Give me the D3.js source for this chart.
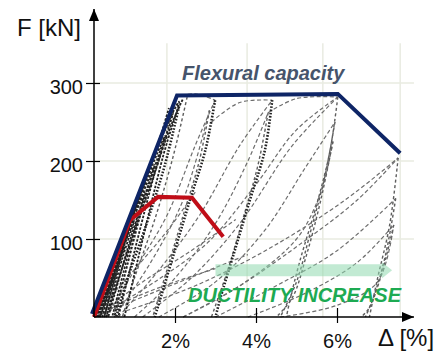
<!DOCTYPE html>
<html>
<head>
<meta charset="utf-8">
<script src="https://cdn.jsdelivr.net/npm/d3@7"></script>
<style>
    body { margin: 0; background: #fff; }
    text { font-family: "Liberation Sans", Arial, sans-serif; }
</style>
</head>
<body>
<svg id="chart" width="439" height="353"></svg>
<script>
// values: drift in %, force in kN
const yTicks = [100, 200, 300];
const xTicks = [2, 4, 6];
const xTickLabels = ["2%", "4%", "6%"];
const gridDrifts = [1.8, 3.78, 5.65, 7.56];

const flexuralCapacity = [[-0.05, 4], [2.05, 284], [6.02, 286], [7.56, 210]];
const brittleResponse = [[0, 0], [0.89, 124], [1.58, 154], [2.42, 153], [3.19, 103]];
const ductilityArrow = { from: 3.0, to: 7.36, level: 60 };

// small cycles before yielding (dense band near the origin)
const elasticCycles = [
    [[0, 0], [0.3, 30], [0.5, 55], [0.35, 30], [0.15, 0]],
    [[0.05, 0], [0.45, 50], [0.75, 90], [0.55, 55], [0.25, 0]],
    [[0.08, 0], [0.55, 65], [1.0, 125], [0.7, 75], [0.3, 0]],
    [[0.1, 0], [0.7, 90], [1.25, 160], [0.9, 100], [0.35, 0]],
    [[0.12, 0], [0.85, 110], [1.5, 195], [1.1, 130], [0.45, 0]],
    [[0.15, 0], [1.0, 135], [1.75, 232], [1.3, 160], [0.5, 0]],
    [[0.2, 0], [1.15, 160], [1.95, 262], [1.5, 185], [0.6, 0]],
    [[0.25, 0], [1.3, 185], [2.1, 276], [1.7, 205], [0.75, 0]],
    [[0.05, 0], [0.6, 80], [1.1, 150], [1.6, 225], [1.85, 268]],
    [[0.3, 0], [0.9, 95], [1.4, 170], [1.9, 245], [2.2, 280]]
];

// unloading branches from the peaks of each drift level
const unloadingBranches = [
    [[2.0, 280], [1.6, 200], [1.0, 110], [0.55, 40], [0.35, 0]],
    [[2.3, 282], [1.95, 205], [1.5, 125], [1.0, 50], [0.7, 0]],
    [[2.85, 265], [2.6, 200], [2.2, 130], [1.8, 60], [1.45, 0]],
    [[4.3, 262], [4.05, 195], [3.7, 130], [3.3, 60], [2.9, 0]],
    [[6.02, 282], [5.83, 214], [5.53, 150], [5.09, 73], [4.84, 22], [4.75, 0]],
    [[5.95, 250], [5.7, 180], [5.35, 110], [5.0, 45], [4.6, 0]],
    [[5.9, 225], [5.6, 150], [5.25, 80], [4.9, 25], [4.5, 0]],
    [[7.51, 204], [7.3, 118], [6.99, 47], [6.8, 0]],
    [[7.45, 152], [7.2, 80], [6.9, 25], [6.7, 0]],
    [[7.4, 118], [7.1, 55], [6.8, 12], [6.6, 0]]
];

// repeated unloading at the same drift (heavy dotted lines)
const repeatedUnloading = [
    [[2.99, 278], [2.75, 214], [2.37, 150], [2.0, 86], [1.63, 22], [1.5, 0]],
    [[4.4, 278], [4.22, 214], [3.85, 150], [3.48, 86], [3.11, 22], [3.0, 0]],
    [[2.1, 270], [1.75, 195], [1.3, 120], [0.8, 45], [0.55, 0]]
];

// pinched reloading branches
const reloadingBranches = [
    [[0.3, 0], [1.0, 60], [1.8, 130], [2.5, 220], [2.99, 278]],
    [[0.5, 0], [1.4, 70], [2.2, 150], [2.85, 265]],
    [[0.6, 0], [1.6, 60], [2.6, 130], [3.6, 220], [4.4, 278]],
    [[1.0, 0], [2.0, 50], [3.0, 120], [3.8, 200], [4.3, 262]],
    [[0.4, 10], [1.5, 45], [2.8, 95], [4.0, 170], [5.0, 240], [6.02, 282]],
    [[1.2, 0], [2.4, 50], [3.6, 120], [4.9, 220], [6.02, 282]],
    [[1.6, 0], [3.0, 45], [4.2, 110], [5.2, 190], [5.95, 250]],
    [[2.2, 0], [3.6, 40], [5.0, 100], [5.6, 160], [5.9, 225]],
    [[0.8, 8], [2.5, 40], [4.4, 90], [6.2, 150], [7.51, 204]],
    [[2.2, 0], [3.6, 40], [5.0, 90], [6.5, 150], [7.51, 204]],
    [[3.0, 0], [4.5, 40], [6.0, 85], [7.45, 152]],
    [[3.8, 0], [5.2, 30], [6.5, 70], [7.4, 118]],
    [[4.6, 0], [6.0, 15], [7.0, 45], [7.4, 118]],
    [[2.0, 282], [2.5, 286], [2.99, 278]],
    [[2.9, 250], [3.6, 275], [4.4, 278]],
    [[4.3, 262], [5.0, 280], [6.02, 282]],
    [[0.2, 4], [1.4, 30], [2.6, 55], [3.8, 80]],
    [[0.1, 2], [1.0, 25], [2.0, 45], [3.0, 62]],
    [[0.15, 5], [1.2, 45], [2.4, 85], [3.5, 125]],
    [[0.1, 8], [0.9, 55], [1.8, 110], [2.5, 160]]
];

const svg = d3.select("#chart");

const x = d3.scaleLinear().domain([0, 6]).range([94, 337]);
const y = d3.scaleLinear().domain([0, 300]).range([317, 83]);

// faint background grid of the original test plot
const grid = svg.append("g").attr("stroke", "#e9ebe1").attr("stroke-width", 1.5);
grid.selectAll("line.h")
    .data(yTicks)
    .enter().append("line")
    .attr("x1", x(0)).attr("x2", x(7.9))
    .attr("y1", d => y(d)).attr("y2", d => y(d));
grid.selectAll("line.v")
    .data(gridDrifts)
    .enter().append("line")
    .attr("x1", d => x(d)).attr("x2", d => x(d))
    .attr("y1", y(0)).attr("y2", y(351));

const curve = d3.line()
    .x(d => x(d[0]))
    .y(d => y(d[1]))
    .curve(d3.curveCatmullRom.alpha(0.5));

// hysteresis loops
const loops = svg.append("g").attr("fill", "none");
loops.selectAll("path.reload")
    .data(reloadingBranches)
    .enter().append("path")
    .attr("d", curve)
    .attr("stroke", "#6e6e6e")
    .attr("stroke-width", 1.2)
    .attr("stroke-dasharray", "4,2.5");
loops.selectAll("path.unload")
    .data(unloadingBranches)
    .enter().append("path")
    .attr("d", curve)
    .attr("stroke", "#5e5e5e")
    .attr("stroke-width", 1.4)
    .attr("stroke-dasharray", "3,2.5");
loops.selectAll("path.elastic")
    .data(elasticCycles)
    .enter().append("path")
    .attr("d", curve)
    .attr("stroke", "#222")
    .attr("stroke-width", 1.8)
    .attr("stroke-dasharray", "2.5,1.5");
loops.selectAll("path.repeat")
    .data(repeatedUnloading)
    .enter().append("path")
    .attr("d", curve)
    .attr("stroke", "#222")
    .attr("stroke-width", 2.6)
    .attr("stroke-dasharray", "1.6,1.6");

// ductility arrow
const ax0 = x(ductilityArrow.from), ax1 = x(ductilityArrow.to), ay = y(ductilityArrow.level);
svg.append("path")
    .attr("d", `M${ax0},${ay - 6}L${ax1 - 10},${ay - 6}L${ax1 - 10},${ay - 8}L${ax1},${ay}` +
        `L${ax1 - 10},${ay + 8}L${ax1 - 10},${ay + 6}L${ax0},${ay + 6}Z`)
    .attr("fill", "#8fd8ae")
    .attr("opacity", 0.55);

// envelopes
const straight = d3.line().x(d => x(d[0])).y(d => y(d[1]));
svg.append("path")
    .datum(brittleResponse)
    .attr("d", straight)
    .attr("fill", "none")
    .attr("stroke", "#c00d17")
    .attr("stroke-width", 4)
    .attr("stroke-linejoin", "miter");
svg.append("path")
    .datum(flexuralCapacity)
    .attr("d", straight)
    .attr("fill", "none")
    .attr("stroke", "#0e2566")
    .attr("stroke-width", 4)
    .attr("stroke-linejoin", "miter");

// axes
const xAxis = svg.append("g")
    .attr("transform", `translate(0, ${y(0)})`)
    .call(d3.axisBottom(x).tickValues(xTicks).tickSize(6).tickSizeOuter(0)
        .tickFormat((d, i) => xTickLabels[i]));
xAxis.select(".domain").remove();
xAxis.selectAll(".tick line").attr("y1", -9).attr("stroke", "#000").attr("stroke-width", 1.2);
xAxis.selectAll(".tick text")
    .attr("y", 31).attr("dy", 0)
    .style("font-size", "20px")
    .style("font-family", "'Liberation Sans', Arial, sans-serif")
    .attr("fill", "#111");

const yAxis = svg.append("g")
    .attr("transform", `translate(${x(0)}, 0)`)
    .call(d3.axisLeft(y).tickValues(yTicks).tickSize(8).tickSizeOuter(0));
yAxis.select(".domain").remove();
yAxis.selectAll(".tick line").attr("x1", 6).attr("stroke", "#000").attr("stroke-width", 1.2);
yAxis.selectAll(".tick text")
    .attr("x", -11).attr("dy", "0.5em")
    .style("font-size", "20px")
    .style("font-family", "'Liberation Sans', Arial, sans-serif")
    .attr("fill", "#111");

const defs = svg.append("defs");
defs.append("marker")
    .attr("id", "arrow")
    .attr("viewBox", "0 0 12 10")
    .attr("refX", 12).attr("refY", 5)
    .attr("markerWidth", 12).attr("markerHeight", 10)
    .attr("markerUnits", "userSpaceOnUse")
    .attr("orient", "auto")
    .append("path").attr("d", "M0,0L12,5L0,10Z").attr("fill", "#000");

svg.append("line")
    .attr("x1", x(0)).attr("x2", x(7.9))
    .attr("y1", y(0)).attr("y2", y(0))
    .attr("stroke", "#000").attr("stroke-width", 1.5)
    .attr("marker-end", "url(#arrow)");
svg.append("line")
    .attr("x1", x(0)).attr("x2", x(0))
    .attr("y1", y(0)).attr("y2", y(395))
    .attr("stroke", "#000").attr("stroke-width", 1.5)
    .attr("marker-end", "url(#arrow)");

// titles and annotations
svg.append("text")
    .attr("x", 17).attr("y", 36)
    .style("font-size", "24px")
    .attr("fill", "#111")
    .text("F [kN]");
svg.append("text")
    .attr("x", 378).attr("y", 346)
    .style("font-size", "24px")
    .attr("fill", "#111")
    .text("Δ [%]");
svg.append("text")
    .attr("x", 182).attr("y", 80)
    .style("font-size", "20px")
    .style("font-weight", "bold")
    .style("font-style", "italic")
    .attr("fill", "#46546b")
    .text("Flexural capacity");
svg.append("text")
    .attr("x", 188).attr("y", 302)
    .style("font-size", "20px")
    .style("font-weight", "bold")
    .style("font-style", "italic")
    .attr("fill", "#1daa52")
    .text("DUCTILITY INCREASE");
</script>
</body>
</html>
